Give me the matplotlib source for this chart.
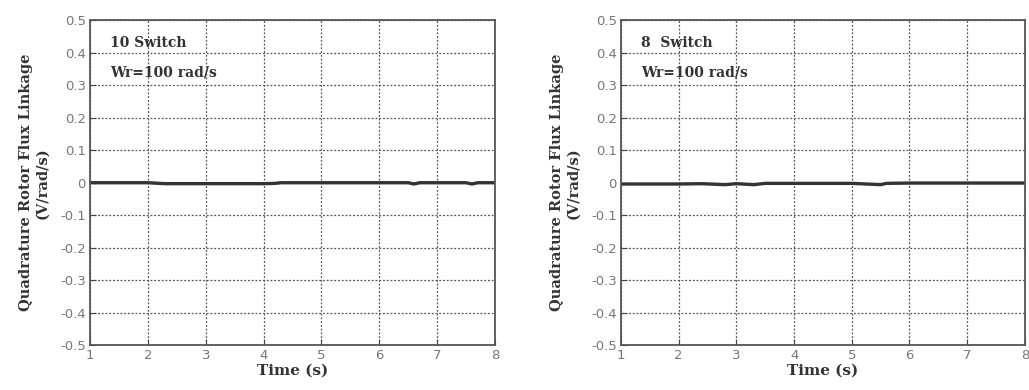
import matplotlib.pyplot as plt
import numpy as np

plt.rcParams['font.family'] = ['DejaVu Sans']

# 数据：转子磁链 q 轴分量（近似为 0）
t_10 = [1.0, 2.0, 2.3, 2.5, 3.0, 3.5, 4.0, 4.2, 4.3, 5.0, 6.0, 6.5, 6.6, 6.7, 7.0, 7.5, 7.6, 7.7, 8.0]
psi_10 = [0.0, 0.0, -0.003, -0.003, -0.003, -0.003, -0.003, -0.002, 0.0, 0.0, 0.0, 0.0, -0.004, 0.0, 0.0, 0.0, -0.004, 0.0, 0.0]

t_8 = [1.0, 2.0, 2.4, 2.8, 3.0, 3.3, 3.5, 4.0, 5.0, 5.5, 5.6, 6.0, 7.0, 8.0]
psi_8 = [-0.004, -0.004, -0.003, -0.006, -0.003, -0.006, -0.002, -0.002, -0.002, -0.006, -0.002, -0.001, -0.001, -0.001]

labels = ['10 Switch', '8  Switch']
speed = 'Wr=100 rad/s'

fig = plt.figure(figsize=(10.29, 3.9), dpi=100)
ax1 = fig.add_axes([0.0875, 0.115, 0.3936, 0.833])
ax2 = fig.add_axes([0.6035, 0.115, 0.3925, 0.833])

for ax, t, psi, lab in [(ax1, t_10, psi_10, labels[0]), (ax2, t_8, psi_8, labels[1])]:
    ax.plot(t, psi, color='#333333', linewidth=2.4)
    ax.set_xlim(1, 8)
    ax.set_ylim(-0.5, 0.5)
    ax.set_xticks(np.arange(1, 9))
    ax.set_yticks(np.round(np.arange(-0.5, 0.51, 0.1), 1))
    ax.set_yticklabels(['-0.5', '-0.4', '-0.3', '-0.2', '-0.1', '0', '0.1', '0.2', '0.3', '0.4', '0.5'])
    ax.grid(True, linestyle=(0, (1.5, 1.5)), color='#555555', linewidth=0.9)
    ax.tick_params(direction='in', labelsize=9.5, colors='#444444', labelcolor='#777777', length=4, pad=3)
    for s in ax.spines.values():
        s.set_color('#555555')
        s.set_linewidth(1.3)
    ax.set_xlabel('Time (s)', family='serif', fontweight='bold', fontsize=11, labelpad=1, color='#333333')
    ax.set_ylabel('Quadrature Rotor Flux Linkage\n(V/rad/s)', family='serif', fontweight='bold',
                  fontsize=10.5, color='#333333', labelpad=8)
    ax.text(0.05, 0.93, lab, transform=ax.transAxes, family='serif', fontweight='bold',
            fontsize=10, color='#333333', va='center')
    ax.text(0.05, 0.84, speed, transform=ax.transAxes, family='serif', fontweight='bold',
            fontsize=10, color='#333333', va='center')

plt.savefig('out.png', dpi=100)
